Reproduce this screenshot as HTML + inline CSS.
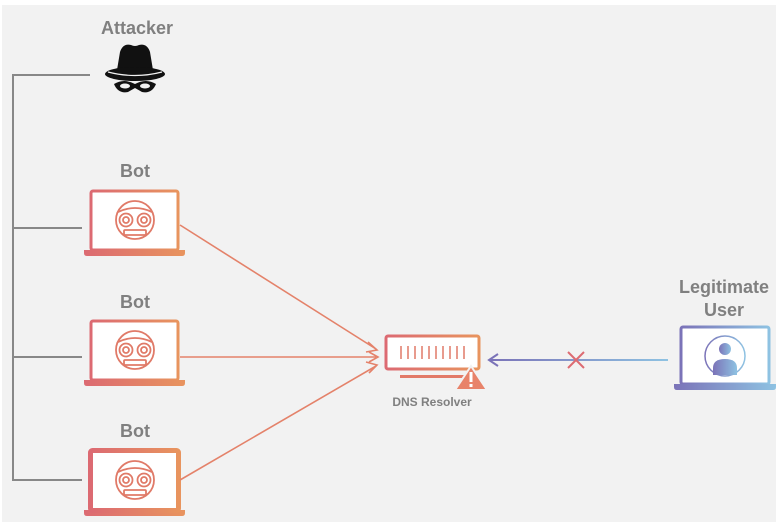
<!DOCTYPE html>
<html><head><meta charset="utf-8"><style>
html,body{margin:0;padding:0;background:#fff;}
svg{display:block;}
text{font-family:"Liberation Sans",sans-serif;font-weight:bold;fill:#808080;}
</style></head><body>
<svg width="778" height="525" viewBox="0 0 778 525" xmlns="http://www.w3.org/2000/svg">
<defs>
<linearGradient id="og" x1="0" x2="1" y1="0" y2="0"><stop offset="0" stop-color="#dc6a72"/><stop offset="1" stop-color="#e8945e"/></linearGradient>
<linearGradient id="bg" x1="0" x2="1" y1="0" y2="0"><stop offset="0" stop-color="#7b73b8"/><stop offset="1" stop-color="#8ec2e2"/></linearGradient>
<linearGradient id="lg" gradientUnits="userSpaceOnUse" x1="490" y1="0" x2="668" y2="0"><stop offset="0" stop-color="#7b73b8"/><stop offset="1" stop-color="#8ec2e2"/></linearGradient>
<g id="bot">
<rect x="91" y="1" width="87" height="59" rx="2" fill="#fff" stroke="url(#og)" stroke-width="3"/>
<path d="M84 60 H185 V63 Q185 66 182 66 H87 Q84 66 84 63 Z" fill="url(#og)"/>
<g fill="none" stroke="#e07a68" stroke-width="1.8">
<circle cx="135" cy="30" r="19"/>
<path d="M118 22 Q135 14 152 22"/>
<circle cx="126" cy="30" r="6.5"/><circle cx="126" cy="30" r="3"/>
<circle cx="144" cy="30" r="6.5"/><circle cx="144" cy="30" r="3"/>
<rect x="124" y="40" width="22" height="5" rx="1"/>
</g>
</g>
</defs>
<rect x="2" y="5" width="774" height="517" fill="#f2f2f2"/>
<path d="M90 75 H13 V480 H82 M13 228 H82 M13 357 H82" fill="none" stroke="#888" stroke-width="2"/>
<text x="137" y="34" font-size="18" text-anchor="middle">Attacker</text>
<path d="M120 52 Q123 43 131 45 Q135 47 139 45 Q147 43 150 52 L153 70 Q135 74 117 70 Z" fill="#111"/>
<ellipse cx="135" cy="74" rx="30" ry="7" fill="#111"/>
<path d="M108 72 Q135 79 162 72" fill="none" stroke="#f2f2f2" stroke-width="1.2"/>
<path d="M114 84 Q124 78 135 84 Q146 78 156 84 Q152 94 142 92 L135 88 L128 92 Q118 94 114 84 Z" fill="#111"/>
<ellipse cx="125" cy="86" rx="5" ry="2.5" fill="#f2f2f2"/><ellipse cx="145" cy="86" rx="5" ry="2.5" fill="#f2f2f2"/>
<text x="135" y="177" font-size="18" text-anchor="middle">Bot</text>
<text x="135" y="308" font-size="18" text-anchor="middle">Bot</text>
<text x="135" y="437" font-size="18" text-anchor="middle">Bot</text>
<use href="#bot" y="190"/>
<use href="#bot" y="320"/>
<use href="#bot" y="450"/>
<rect x="90.5" y="450.5" width="88" height="60" rx="2" fill="none" stroke="url(#og)" stroke-width="5"/>
<g stroke="#e4826a" stroke-width="1.6" fill="none">
<line x1="180" y1="225" x2="376" y2="349"/>
<line x1="180" y1="357" x2="376" y2="357"/>
<line x1="180" y1="480" x2="376" y2="366"/>
<path d="M368 342 L377 350 L366 352"/>
<path d="M369 352 L378 357 L369 362"/>
<path d="M366 362 L377 365 L369 373"/>
</g>
<rect x="386" y="336" width="93" height="33" rx="2" fill="#fff" stroke="url(#og)" stroke-width="3"/>
<g stroke="#e07a68" stroke-width="1.5">
<path d="M401 346v13M408 346v13M415 346v13M422 346v13M429 346v13M436 346v13M443 346v13M450 346v13M457 346v13M464 346v13"/>
</g>
<rect x="400" y="375" width="70" height="3" fill="#e27a68"/>
<path d="M471 366 L487 390 L455 390 Z" fill="#e8836a" stroke="#f2f2f2" stroke-width="2"/>
<rect x="469.5" y="372" width="3" height="10" fill="#fff"/><rect x="469.5" y="384" width="3" height="3" fill="#fff"/>
<text x="432" y="406" font-size="12" text-anchor="middle">DNS Resolver</text>
<line x1="490" y1="360" x2="668" y2="360" stroke="url(#lg)" stroke-width="2"/>
<path d="M498 354 L489 360 L498 366" fill="none" stroke="#7b73b8" stroke-width="2"/>
<path d="M568 352 L584 368 M584 352 L568 368" stroke="#dd6b72" stroke-width="2"/>
<text x="724" y="293" font-size="18" text-anchor="middle">Legitimate</text>
<text x="724" y="316" font-size="18" text-anchor="middle">User</text>
<rect x="681" y="327" width="88" height="57" rx="2" fill="#fff" stroke="url(#bg)" stroke-width="3"/>
<path d="M674 384 H776 V387 Q776 390 773 390 H677 Q674 390 674 387 Z" fill="url(#bg)"/>
<circle cx="725" cy="356" r="20" fill="none" stroke="url(#bg)" stroke-width="1.5"/>
<circle cx="725" cy="349" r="6" fill="url(#bg)"/>
<path d="M713 375 V368 Q713 359 725 359 Q737 359 737 368 V375 Z" fill="url(#bg)"/>
</svg>
</body></html>
